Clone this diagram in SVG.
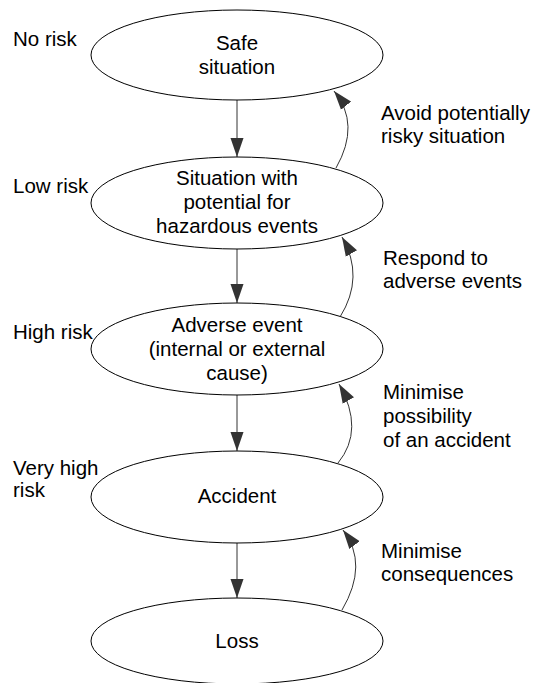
<svg xmlns="http://www.w3.org/2000/svg" width="533" height="683" viewBox="0 0 533 683">
<style>
  .node ellipse { fill: #ffffff; stroke: #000000; stroke-width: 1; }
  text { font-family: "Liberation Sans", Arial, sans-serif; font-size: 20.5px; fill: #000000; }
  .c { text-anchor: middle; }
  .conn path, .conn line { fill: none; stroke: #333333; stroke-width: 1; marker-end: url(#ah); }
</style>
<defs>
  <marker id="ah" markerUnits="userSpaceOnUse" markerWidth="20" markerHeight="14" viewBox="0 0 20 14" refX="19" refY="7" orient="auto">
    <path d="M0,0.5 L19,7 L0,13.5 Z" fill="#333333"/>
  </marker>
</defs>
<rect width="533" height="683" fill="#ffffff"/>

<g id="risk-labels">
  <text x="13" y="46">No risk</text>
  <text x="13" y="193">Low risk</text>
  <text x="13" y="339">High risk</text>
  <text x="13" y="475">Very high</text>
  <text x="13" y="497">risk</text>
</g>

<g class="conn" id="connectors">
  <line x1="237" y1="100" x2="237" y2="157"/>
  <line x1="237" y1="249" x2="237" y2="303"/>
  <line x1="237" y1="395" x2="237" y2="451"/>
  <line x1="237" y1="543" x2="237" y2="598"/>
  <path d="M336,168 Q361,124 334,91"/>
  <path d="M340,317 Q365,277 342,237"/>
  <path d="M338,463 Q365,430 339,384"/>
  <path d="M342,610 Q369,564 343,530"/>
</g>

<g class="node" id="safe">
  <ellipse cx="237" cy="55" rx="146" ry="45"/>
  <text class="c" x="237" y="50">Safe</text>
  <text class="c" x="237" y="74">situation</text>
</g>
<g class="node" id="potential">
  <ellipse cx="237" cy="203" rx="146" ry="46"/>
  <text class="c" x="237" y="185">Situation with</text>
  <text class="c" x="237" y="209">potential for</text>
  <text class="c" x="237" y="233">hazardous events</text>
</g>
<g class="node" id="adverse">
  <ellipse cx="237" cy="349" rx="146" ry="46"/>
  <text class="c" x="237" y="332">Adverse event</text>
  <text class="c" x="237" y="356">(internal or external</text>
  <text class="c" x="237" y="380">cause)</text>
</g>
<g class="node" id="accident">
  <ellipse cx="237" cy="497" rx="146" ry="46"/>
  <text class="c" x="237" y="503">Accident</text>
</g>
<g class="node" id="loss">
  <ellipse cx="237" cy="641" rx="146" ry="43"/>
  <text class="c" x="237" y="648">Loss</text>
</g>

<g id="edge-labels">
  <text x="381" y="120">Avoid potentially</text>
  <text x="381" y="143">risky situation</text>
  <text x="383" y="265">Respond to</text>
  <text x="383" y="288">adverse events</text>
  <text x="383" y="399">Minimise</text>
  <text x="383" y="423">possibility</text>
  <text x="383" y="447">of an accident</text>
  <text x="381" y="558">Minimise</text>
  <text x="381" y="581">consequences</text>
</g>
</svg>
